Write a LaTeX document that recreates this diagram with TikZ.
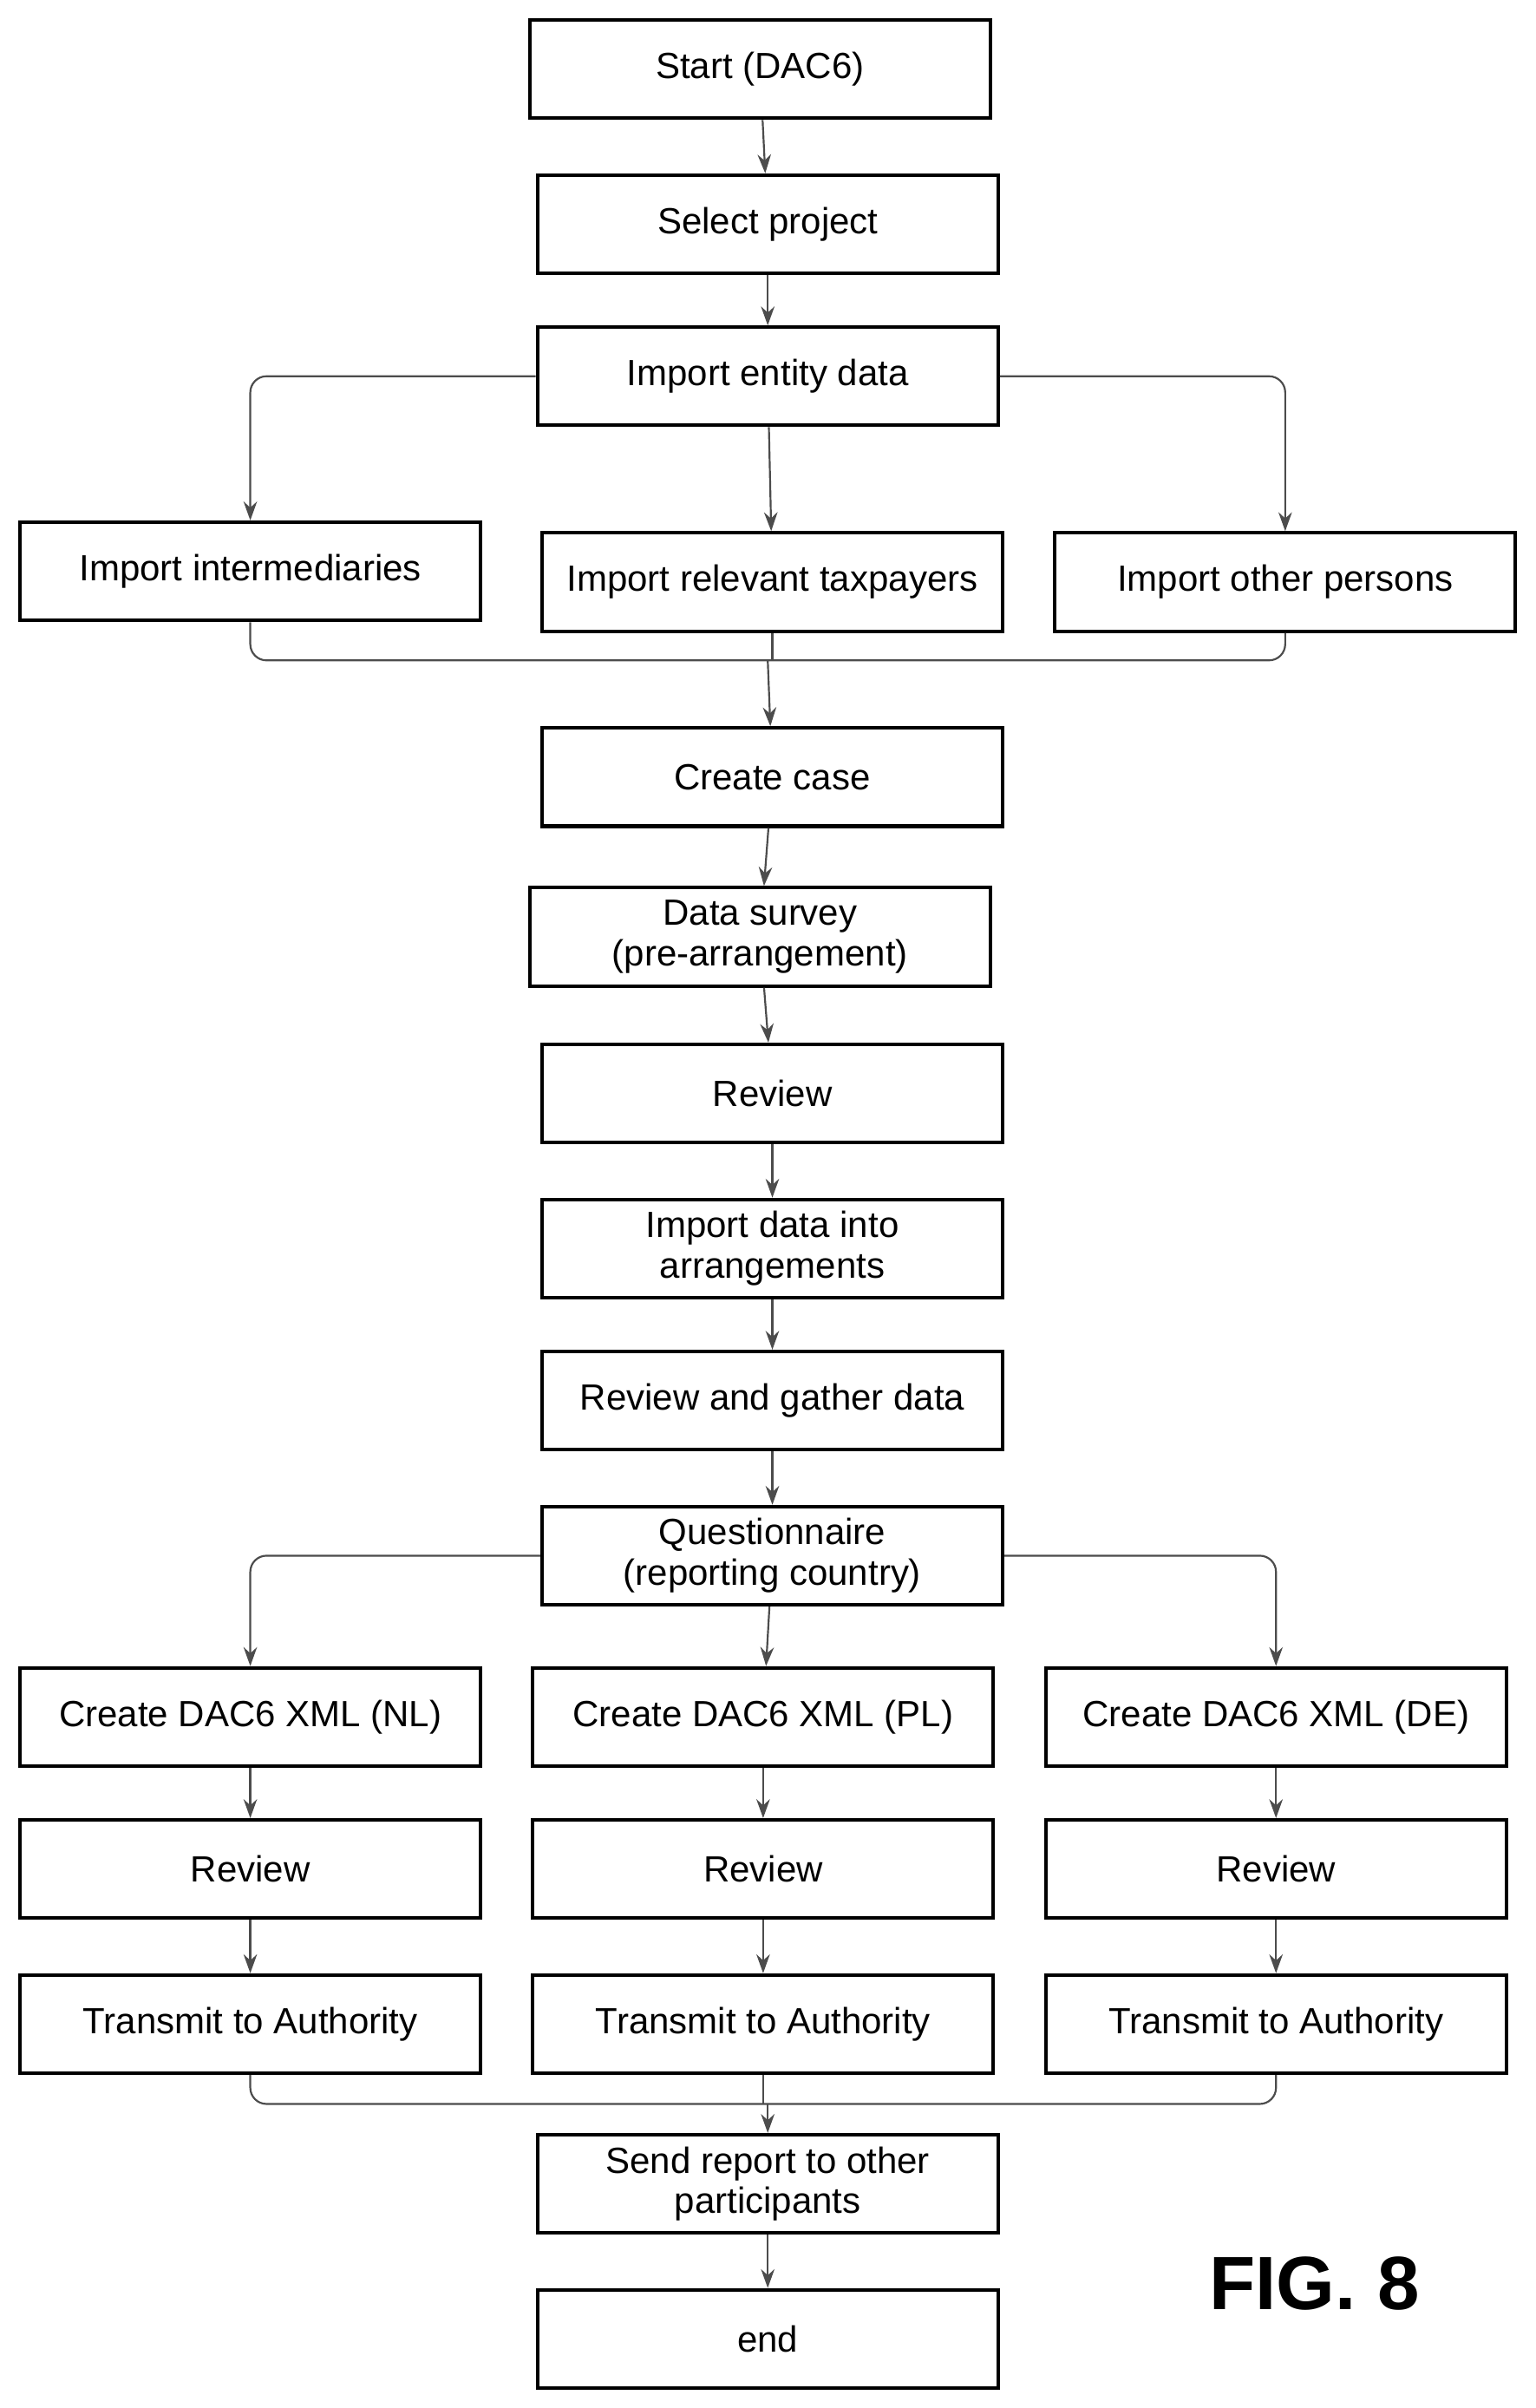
\documentclass[tikz,border=0pt]{standalone}
\usepackage{fontspec}
\setmainfont{Liberation Sans}
\usetikzlibrary{arrows.meta}
\begin{document}
\begin{tikzpicture}[x=0.02cm,y=-0.02cm,
 box/.style={draw,line width=1.3pt,minimum width=6cm,minimum height=1.28cm,align=center,font=\fontsize{13.5}{15}\selectfont,inner sep=1pt},
 ar/.style={-{Stealth[length=7pt,width=5pt]},line width=0.7pt,draw=black!70},
 ln/.style={line width=0.7pt,draw=black!70,rounded corners=6pt}]
\useasboundingbox (0,0) rectangle (1000,1568);
\node[box] (s) at (495,45) {Start (DAC6)};
\node[box] (sp) at (500,146) {Select project};
\node[box] (ie) at (500,245) {Import entity data};
\node[box] (ii) at (163,372) {Import intermediaries};
\node[box] (it) at (503,379) {Import relevant taxpayers};
\node[box] (io) at (837,379) {Import other persons};
\node[box] (cc) at (503,506) {Create case};
\node[box] (ds) at (495,610) {Data survey\\(pre-arrangement)};
\node[box] (r1) at (503,712) {Review};
\node[box] (id) at (503,813) {Import data into\\arrangements};
\node[box] (rg) at (503,912) {Review and gather data};
\node[box] (q) at (503,1013) {Questionnaire\\(reporting country)};
\node[box] (cn) at (163,1118) {Create DAC6 XML (NL)};
\node[box] (cp) at (497,1118) {Create DAC6 XML (PL)};
\node[box] (cd) at (831,1118) {Create DAC6 XML (DE)};
\node[box] (rn) at (163,1217) {Review};
\node[box] (rp) at (497,1217) {Review};
\node[box] (rd) at (831,1217) {Review};
\node[box] (tn) at (163,1318) {Transmit to Authority};
\node[box] (tp) at (497,1318) {Transmit to Authority};
\node[box] (td) at (831,1318) {Transmit to Authority};
\node[box] (sr) at (500,1422) {Send report to other\\participants};
\node[box] (e) at (500,1523) {end};
\node[font=\bfseries\fontsize{28}{30}\selectfont] (fig) at (856,1487) {FIG. 8};
\coordinate (m1) at (500,430);
\coordinate (m2) at (500,1370);
\draw[ar] (s) -- (sp);
\draw[ar] (sp) -- (ie);
\draw[ar] (ie) -- (it);
\draw[ar,rounded corners=6pt] (ie.west) -| (ii.north);
\draw[ar,rounded corners=6pt] (ie.east) -| (io.north);
\draw[ln] (ii.south) |- (m1);
\draw[ln] (io.south) |- (m1);
\draw[ln] (it.south) -- (it.south |- m1);
\draw[ar] (m1) -- (cc);
\draw[ar] (cc) -- (ds);
\draw[ar] (ds) -- (r1);
\draw[ar] (r1) -- (id);
\draw[ar] (id) -- (rg);
\draw[ar] (rg) -- (q);
\draw[ar] (q) -- (cp);
\draw[ar,rounded corners=6pt] (q.west) -| (cn.north);
\draw[ar,rounded corners=6pt] (q.east) -| (cd.north);
\draw[ar] (cn) -- (rn); \draw[ar] (cp) -- (rp); \draw[ar] (cd) -- (rd);
\draw[ar] (rn) -- (tn); \draw[ar] (rp) -- (tp); \draw[ar] (rd) -- (td);
\draw[ln] (tn.south) |- (m2);
\draw[ln] (td.south) |- (m2);
\draw[ln] (tp.south) -- (tp.south |- m2);
\draw[ar] (m2) -- (sr);
\draw[ar] (sr) -- (e);
\end{tikzpicture}
\end{document}
